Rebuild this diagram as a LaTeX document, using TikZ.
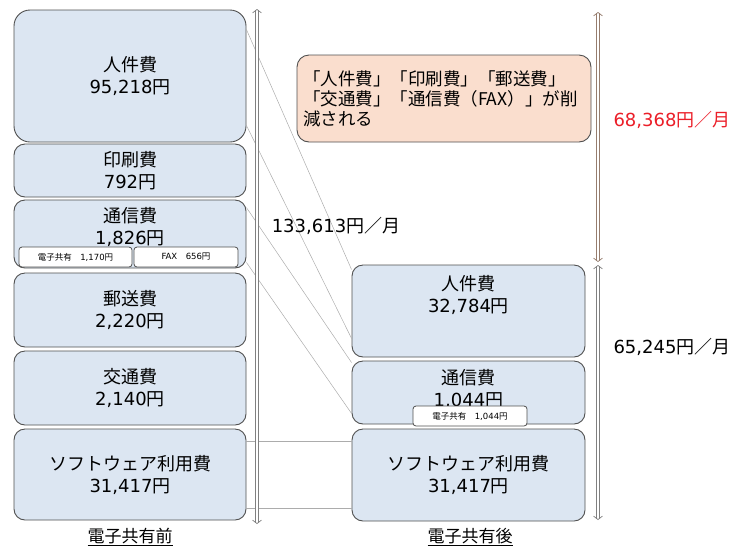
\documentclass[tikz,border=0pt]{standalone}
\usepackage{fontspec}
\setmainfont{Noto Sans CJK JP}
\newfontfamily\latinfont{DejaVu Sans}
\newcommand{\price}[1]{{\latinfont #1}円}
\usetikzlibrary{arrows.meta}
\definecolor{boxblue}{RGB}{220,230,242}
\definecolor{boxline}{RGB}{80,80,80}
\definecolor{notepeach}{RGB}{250,222,206}
\definecolor{spanbrown}{RGB}{150,125,110}
\definecolor{costred}{RGB}{235,30,40}
\begin{document}
\begin{tikzpicture}[x=1pt,y=-1pt,
  costbox/.style={rectangle, rounded corners=11pt, draw=boxline, line width=0.9pt, fill=boxblue, minimum width=232pt, inner sep=0pt, align=center, font=\fontsize{18}{22}\selectfont},
  boxtext/.style={align=center, inner sep=0pt, font=\fontsize{18}{22}\selectfont},
  subbox/.style={rectangle, rounded corners=3pt, draw=boxline, line width=0.8pt, fill=white, minimum height=20pt, inner sep=0pt, font=\fontsize{8.5}{10}\selectfont},
  link/.style={gray!65, line width=0.5pt},
  span/.style={double=white, double distance=2.6pt, line width=0.7pt, {Straight Barb[length=3.5pt, width=9pt]}-{Straight Barb[length=3.5pt, width=9pt]}},
  total/.style={font=\fontsize{18}{22}\selectfont}]
\useasboundingbox (0,0) rectangle (736,547);

% before
\node (jinkenA) [costbox, minimum height=132pt, rounded corners=16pt] at (130,76) {人件費\\\price{95,218}};
\node (insatsuA) [costbox, minimum height=53pt, below of=jinkenA, node distance=94.5pt] {印刷費\\\price{792}};
\node (tsushinA) [costbox, minimum height=68pt, below of=insatsuA, node distance=63.5pt] {};
\node (yusoA) [costbox, minimum height=74pt, below of=tsushinA, node distance=76pt] {郵送費\\\price{2,220}};
\node (kotsuA) [costbox, minimum height=74pt, below of=yusoA, node distance=78pt] {交通費\\\price{2,140}};
\node (softA) [costbox, minimum height=91pt, below of=kotsuA, node distance=86.5pt] {ソフトウェア利用費\\\price{31,417}};
\node (tsushinAtext) [boxtext] at ([yshift=-27pt]tsushinA.north) {通信費\\\price{1,826}};
\node (denshiA) [subbox, minimum width=113pt] at (75.5,257) {電子共有\quad\price{1,170}};
\node (faxA) [subbox, minimum width=104pt] at (186,257) {{\latinfont FAX}\quad\price{656}};

% after
\node (jinkenB) [costbox, minimum width=233pt, minimum height=92pt] at (468.5,311) {};
\node (tsushinB) [costbox, minimum width=233pt, minimum height=63pt, below of=jinkenB, node distance=81.5pt] {};
\node (softB) [costbox, minimum width=233pt, minimum height=92pt, below of=tsushinB, node distance=82.5pt] {ソフトウェア利用費\\\price{31,417}};
\node (jinkenBtext) [boxtext] at ([yshift=-30pt]jinkenB.north) {人件費\\\price{32,784}};
\node (tsushinBtext) [boxtext] at ([yshift=4pt]tsushinB.center) {通信費\\\price{1,044}};
\node (denshiB) [subbox, minimum width=114pt] at (470,416) {電子共有\quad\price{1,044}};

\node (note) [rectangle, rounded corners=12pt, draw=boxline, line width=0.9pt, fill=notepeach, text width=282pt, inner xsep=6pt, minimum height=87pt, align=left, font=\fontsize{17.5}{20}\selectfont] at (444,98.5) {「人件費」「印刷費」「郵送費」\\「交通費」「通信費（FAX）」が削\\減される};

% links between the two columns
\draw[link] ([yshift=-20pt]jinkenA.north east) -- ([yshift=-5pt]jinkenB.north west);
\draw[link] ([yshift=17pt]jinkenA.south east) -- ([yshift=19pt]jinkenB.south west);
\draw[link] ([yshift=-8pt]tsushinA.north east) -- ([yshift=-2pt]tsushinB.north west);
\draw[link] ([yshift=6pt]tsushinA.south east) -- ([yshift=11pt]tsushinB.south west);
\draw[link] ([yshift=-13pt]softA.north east) -- ([yshift=-13pt]softB.north west);
\draw[link] ([yshift=12pt]softA.south east) -- ([yshift=13pt]softB.south west);

% spans
\coordinate (beforeTop) at (257,9);
\coordinate (beforeBot) at (257,524);
\coordinate (savingTop) at (598,12);
\coordinate (savingBot) at (598,262);
\coordinate (afterTop) at (598,265);
\coordinate (afterBot) at (598,520);
\draw[span, draw=gray] (beforeTop) -- (beforeBot);
\draw[span, draw=spanbrown] (savingTop) -- (savingBot);
\draw[span, draw=gray] (afterTop) -- (afterBot);

\node (totalA) [total] at (336,226) {\price{133,613}／月};
\node (saving) [total, text=costred] at (672,120) {\price{68,368}／月};
\node (totalB) [total] at (672,347) {\price{65,245}／月};
\node (captionA) [font=\fontsize{17}{20}\selectfont] at (130,537) {\underline{電子共有前}};
\node (captionB) [font=\fontsize{17}{20}\selectfont] at (470,537) {\underline{電子共有後}};
\end{tikzpicture}
\end{document}
